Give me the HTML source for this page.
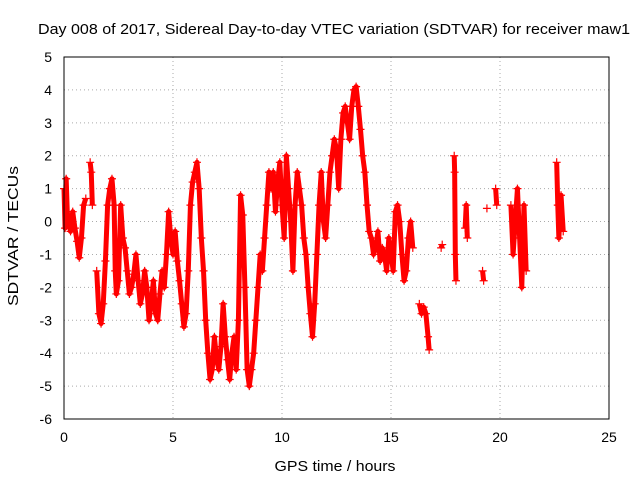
<!DOCTYPE html>
<html><head><meta charset="utf-8"><style>
body{margin:0;background:#fff}
svg{font-family:"Liberation Sans",sans-serif;display:block}
</style></head><body>
<svg id="chart" width="640" height="480">
<rect width="640" height="480" fill="#fff"/>
<text x="334" y="34" font-size="15" text-anchor="middle" textLength="592" lengthAdjust="spacingAndGlyphs">Day 008 of 2017, Sidereal Day-to-day VTEC variation (SDTVAR) for receiver maw1</text>
<text transform="translate(18,236) rotate(-90)" font-size="15" text-anchor="middle" textLength="140" lengthAdjust="spacingAndGlyphs">SDTVAR / TECUs</text>
<text x="335" y="471" font-size="15" text-anchor="middle" textLength="121" lengthAdjust="spacingAndGlyphs">GPS time / hours</text>
<g id="grid"></g><g id="ticks"></g><g id="marks"></g>
<rect x="64" y="57" width="545" height="362" fill="none" stroke="#000"/>
</svg>
<script>
const xTicks=[0,5,10,15,20,25];
const yTicks=[-6,-5,-4,-3,-2,-1,0,1,2,3,4,5];
const times=[0,0.05,0.1,0.15,0.2,0.3,0.4,0.5,0.6,0.7,0.8,0.9,1.0,null,1.2,1.25,1.3,null,
1.5,1.6,1.7,1.8,1.9,2.0,2.1,2.2,2.3,2.35,2.4,2.5,2.6,2.7,2.8,2.9,3.0,3.1,3.2,3.3,3.4,3.5,3.6,3.7,3.8,3.9,4.0,4.1,4.2,4.3,4.4,4.5,4.6,4.7,4.8,4.9,5.0,5.1,5.2,5.3,5.4,5.5,5.6,5.7,5.8,5.9,6.0,6.1,6.2,6.3,6.4,6.5,6.6,6.7,6.8,6.9,7.0,7.1,7.2,7.3,7.4,7.5,7.6,7.7,7.8,7.9,8.0,8.1,8.2,8.3,8.4,8.5,8.6,8.7,8.8,8.9,9.0,9.1,9.2,9.3,9.4,9.5,9.6,9.7,9.8,9.9,10.0,10.1,10.2,10.3,10.4,10.5,10.6,10.7,10.8,10.9,11.0,11.1,11.2,11.3,11.4,11.5,11.6,11.7,11.8,11.9,12.0,12.1,12.2,12.3,12.4,12.5,12.6,12.7,12.8,12.9,13.0,13.1,13.2,13.3,13.4,13.5,13.6,13.7,13.8,13.9,14.0,14.1,14.2,14.3,14.4,14.5,14.6,14.7,14.8,14.9,15.0,15.1,15.2,15.3,15.4,15.5,15.6,15.7,15.8,15.9,16.0,null,
16.3,16.4,16.5,16.6,16.7,16.75,null,17.3,17.35,null,17.9,17.92,17.95,17.98,null,18.4,18.45,18.5,null,19.2,19.25,null,19.4,null,19.8,19.85,null,
20.5,20.6,20.7,20.8,20.9,21.0,21.1,21.2,null,22.6,22.65,22.7,22.8,22.9];
const values=[1.0,-0.2,1.3,0.3,0,-0.3,0.3,-0.2,-0.6,-1.1,-0.5,0.5,0.7,null,1.8,1.5,0.5,null,
-1.5,-2.8,-3.1,-2.5,-1.2,0.5,1.0,1.3,0.5,-1.5,-2.2,-1.8,0.5,-0.5,-0.8,-1.5,-2.2,-2.0,-1.6,-1.0,-1.8,-2.5,-2.2,-1.5,-2.0,-3.0,-2.5,-1.8,-2.8,-3.0,-2.2,-1.5,-2.0,-1.0,0.3,-0.5,-1.0,-0.3,-1.2,-1.8,-2.5,-3.2,-2.8,-1.5,0.5,1.2,1.5,1.8,1.0,-0.5,-1.5,-3.0,-4.0,-4.8,-4.5,-3.5,-4.2,-4.5,-3.8,-2.5,-3.5,-4.2,-4.8,-4.0,-3.5,-4.5,-3.0,0.8,0.2,-2.0,-4.5,-5.0,-4.5,-4.0,-3.0,-2.0,-1.0,-1.5,-0.5,0.5,1.5,1.0,1.5,0.3,1.2,1.8,0.5,-0.5,2.0,1.0,0.0,-1.5,0.5,1.5,1.0,0.5,-0.5,-1.0,-2.0,-2.8,-3.5,-2.5,-1.0,0.5,1.5,0.0,-0.5,0.5,1.5,2.0,2.5,2.2,1.0,2.5,3.3,3.5,3.0,2.5,3.5,4.0,4.1,3.5,2.8,2.0,1.5,0.5,-0.3,-0.5,-1.0,-0.8,-0.3,-1.2,-0.8,-1.0,-1.5,-0.5,-1.0,-1.5,0.3,0.5,0.0,-1.0,-1.8,-1.5,-0.5,0.0,-0.8,null,
-2.5,-2.8,-2.6,-2.8,-3.5,-3.9,null,-0.8,-0.7,null,2.0,1.5,-1.0,-1.8,null,-0.2,0.5,-0.5,null,-1.5,-1.8,null,0.4,null,1.0,0.5,null,
0.5,-1.0,0.0,1.0,-0.5,-2.0,0.5,-1.5,null,1.8,0.5,-0.5,0.8,-0.3];
const X=t=>64+t*545/25, Y=v=>419-(v+6)*362/11;
const NS="http://www.w3.org/2000/svg";
const grid=document.getElementById('grid'),ticks=document.getElementById('ticks'),marks=document.getElementById('marks');
function mk(tag,attrs,parent){const e=document.createElementNS(NS,tag);for(const k in attrs)e.setAttribute(k,attrs[k]);parent.appendChild(e);return e;}
xTicks.forEach(t=>{
 const g=mk('line',{x1:X(t),x2:X(t),y1:57,y2:419,stroke:'#aaa','stroke-dasharray':'1,3'},grid);
 
 
 const l=mk('text',{x:X(t),y:442,'font-size':14,'text-anchor':'middle'},ticks);l.textContent=t;
 
 
});
yTicks.forEach(v=>{
 const g=mk('line',{x1:64,x2:609,y1:Y(v),y2:Y(v),stroke:'#aaa','stroke-dasharray':'1,3'},grid);
 
 
 const l=mk('text',{x:52,y:Y(v)+5,'font-size':14,'text-anchor':'end'},ticks);l.textContent=v;
 
 
});
let seg=[];
function flush(){if(seg.length>1){const p=mk('polyline',{points:seg.join(' '),fill:'none',stroke:'#f00','stroke-width':5,'stroke-linejoin':'round'},marks);
 
 }seg=[];}
times.forEach((t,i)=>{
 if(t===null||values[i]===null){flush();return;}
 const x=X(t),y=Y(values[i]);seg.push(x+','+y);
 const m=mk('path',{d:`M${x-4},${y}h8M${x},${y-4}v8`,stroke:'#f00','stroke-width':1.2},marks);
 
 
});
flush();
</script>
</body></html>
